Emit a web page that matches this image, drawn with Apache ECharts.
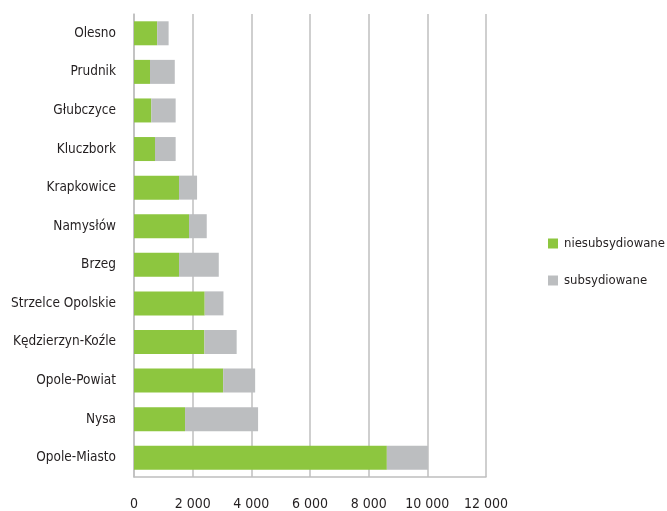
<!DOCTYPE html>
<html>
<head>
<meta charset="utf-8">
<script src="https://cdn.jsdelivr.net/npm/echarts@6/dist/echarts.min.js"></script>
<style>html,body{margin:0;padding:0;background:#fff}#c{width:667px;height:511px}</style>
</head>
<body>
<div id="c"></div>
<script>
var categories = ["Olesno","Prudnik","Głubczyce","Kluczbork","Krapkowice","Namysłów","Brzeg","Strzelce Opolskie","Kędzierzyn-Koźle","Opole-Powiat","Nysa","Opole-Miasto"];
var niesubsydiowane = [790,545,590,715,1535,1875,1535,2410,2400,3040,1740,8620];
var subsydiowane = [390,845,830,705,615,605,1355,640,1100,1090,2490,1400];
var xTicks = [0,2000,4000,6000,8000,10000,12000];
var FONT = '"Liberation Sans Narrow","DejaVu Sans Condensed",sans-serif';
var chart = echarts.init(document.getElementById('c'));
chart.setOption({
  animation:false,
  textStyle:{fontFamily:FONT},
  grid:{left:134,right:181,top:14,bottom:32,containLabel:false},
  legend:{
    orient:'vertical', left:543, top:232, itemWidth:10, itemHeight:10, itemGap:24,
    icon:'rect',
    textStyle:{fontFamily:FONT,fontSize:13,color:'#231f20',padding:[0,0,0,1]},
    data:['niesubsydiowane','subsydiowane']
  },
  xAxis:{
    type:'value', min:xTicks[0], max:xTicks[xTicks.length-1], interval:2000,
    axisLine:{show:true,lineStyle:{color:'#bfbfbf',width:1.5}},
    axisTick:{show:false},
    splitLine:{show:true,lineStyle:{color:'#bfbfbf',width:1.5}},
    axisLabel:{margin:20,fontSize:14,color:'#231f20',fontFamily:FONT,
      formatter:function(v){return String(v).replace(/\B(?=(\d{3})+(?!\d))/g,' ');}}
  },
  yAxis:{
    type:'category', inverse:true, data:categories,
    axisLine:{show:true,lineStyle:{color:'#bfbfbf',width:1.5}},
    axisTick:{show:false},
    axisLabel:{margin:18,fontSize:13.5,color:'#231f20',fontFamily:FONT}
  },
  series:[
    {name:'niesubsydiowane',type:'bar',stack:'a',data:niesubsydiowane,barWidth:24,itemStyle:{color:'#8dc63f'}},
    {name:'subsydiowane',type:'bar',stack:'a',data:subsydiowane,barWidth:24,itemStyle:{color:'#bcbec0'}}
  ]
});
</script>
</body>
</html>
